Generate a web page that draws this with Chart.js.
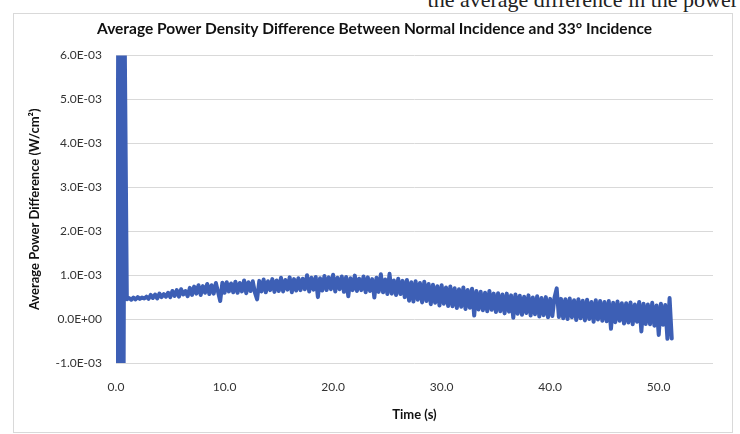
<!DOCTYPE html>
<html>
<head>
<meta charset="utf-8">
<title>Average Power Density Difference</title>
<script src="https://cdn.jsdelivr.net/npm/chart.js@4.4.1/dist/chart.umd.min.js"></script>
<style>
  html, body { margin: 0; padding: 0; background: #fff; }
  body { width: 740px; height: 434px; position: relative; overflow: hidden; }
  #texto { position: absolute; left: 0; top: -13px; width: 738px; white-space: nowrap; text-align: right;
           font: 22px "Liberation Serif", serif; color: #222; }
  #marco { position: absolute; left: 13px; top: 13px; width: 718px; height: 418px; border: 1px solid #d9d9d9; }
  #wrap { position: absolute; left: 0; top: 0; width: 740px; height: 434px; }
</style>
</head>
<body>
<div id="texto">the average difference in the power</div>
<div id="marco"></div>
<div id="wrap"><canvas id="chart-diferencia"></canvas></div>
<script>
/*
  ==================================================
  ====================== DATA ======================
  ==================================================
*/

// startup transient, time in s, difference in 1E-03 W/cm2
const spikeTime = [0.0, 0.1, 0.2, 0.3, 0.4, 0.5, 0.6, 0.7, 0.8];
const spikeDiff = [2.75, -1.4, 6.5, -1.4, 6.5, -1.4, 6.5, -1.4, 6.5];

// steady part, sampled every bandStep seconds starting at bandStart
const bandStart = 1.0;
const bandStep = 0.2;
const bandDiff = [
  0.45, 0.48, 0.44, 0.49, 0.45, 0.50, 0.46, 0.49, 0.47, 0.51,
  0.46, 0.55, 0.48, 0.56, 0.47, 0.58, 0.50, 0.57, 0.51, 0.60,
  0.50, 0.64, 0.53, 0.66, 0.51, 0.68, 0.56, 0.64, 0.52, 0.71,
  0.55, 0.74, 0.58, 0.77, 0.55, 0.75, 0.60, 0.80, 0.57, 0.77,
  0.58, 0.82, 0.62, 0.41, 0.83, 0.60, 0.84, 0.63, 0.81, 0.61,
  0.85, 0.60, 0.82, 0.63, 0.88, 0.59, 0.84, 0.64, 0.86, 0.60,
  0.45, 0.87, 0.63, 0.90, 0.61, 0.86, 0.66, 0.91, 0.62, 0.88,
  0.64, 0.94, 0.63, 0.89, 0.67, 0.95, 0.61, 0.91, 0.65, 0.93,
  0.66, 0.92, 0.68, 1.00, 0.63, 0.94, 0.67, 0.96, 0.50, 0.93,
  0.65, 0.98, 0.66, 0.95, 0.68, 1.01, 0.63, 0.94, 0.68, 0.97,
  0.62, 0.96, 0.52, 0.93, 0.66, 0.99, 0.64, 0.92, 0.66, 0.97,
  0.61, 0.95, 0.64, 0.91, 0.49, 0.94, 0.62, 1.02, 0.61, 0.90,
  0.57, 1.03, 0.58, 0.88, 0.55, 0.92, 0.57, 0.87, 0.50, 0.89,
  0.42, 0.84, 0.40, 0.86, 0.44, 0.82, 0.38, 0.85, 0.41, 0.80,
  0.34, 0.78, 0.37, 0.75, 0.31, 0.77, 0.35, 0.72, 0.30, 0.74,
  0.29, 0.70, 0.25, 0.68, 0.28, 0.72, 0.23, 0.66, 0.26, 0.69,
  0.08, 0.64, 0.22, 0.62, 0.20, 0.60, 0.18, 0.64, 0.21, 0.58,
  0.16, 0.59, 0.18, 0.56, 0.13, 0.58, 0.17, 0.54, 0.03, 0.56,
  0.12, 0.53, 0.10, 0.51, 0.14, 0.54, 0.08, 0.49, 0.11, 0.52,
  0.06, 0.48, 0.09, 0.50, 0.04, 0.46, 0.07, 0.49, 0.70, 0.05,
  0.46, 0.02, 0.45, 0.00, 0.47, 0.04, 0.43, -0.02, 0.45, 0.02,
  0.42, -0.03, 0.44, 0.00, 0.39, -0.06, 0.43, -0.01, 0.41, -0.04,
  0.39, -0.05, 0.41, -0.22, 0.37, -0.07, 0.40, -0.04, 0.36, -0.10,
  0.36, -0.08, 0.38, -0.12, 0.33, -0.06, 0.39, -0.28, 0.35, -0.11,
  0.33, -0.12, 0.37, -0.15, 0.31, -0.36, 0.35, -0.13, 0.32, -0.45,
  0.48, -0.44
];

const xTicks = [0, 10, 20, 30, 40, 50];
const xTickLabels = ['0.0', '10.0', '20.0', '30.0', '40.0', '50.0'];
const yTicks = [-1, 0, 1, 2, 3, 4, 5, 6];
const yTickLabels = ['-1.0E-03', '0.0E+00', '1.0E-03', '2.0E-03', '3.0E-03', '4.0E-03', '5.0E-03', '6.0E-03'];

/*
  ==================================================
  ===================== CHART ======================
  ==================================================
*/

let puntos = spikeTime.map((t, i) => ({ x: t, y: spikeDiff[i] }));
bandDiff.forEach((v, i) => puntos.push({ x: bandStart + i * bandStep, y: v }));

let fuente = 'Lato, "Open Sans", sans-serif';

// nudge the title a little to the right, like the original
let moverTitulo = {
  id: 'moverTitulo',
  afterLayout: (c) => { c.titleBlock.left += 16; }
};

/** @type {CanvasRenderingContext2D} */
let ctx = document.getElementById('chart-diferencia').getContext('2d');

let chart = new Chart(ctx, {
  type: 'line',
  data: {
    datasets: [{
      label: 'Difference',
      data: puntos,
      borderColor: '#3d5fb5',
      backgroundColor: '#3d5fb5',
      borderWidth: 4,
      borderJoinStyle: 'round',
      borderCapStyle: 'round',
      pointRadius: 0,
      tension: 0,
      fill: false
    }]
  },
  options: {
    responsive: true,
    maintainAspectRatio: false,
    animation: false,
    layout: { padding: { left: 20, right: 27, top: 14, bottom: 9 } },
    plugins: {
      legend: { display: false },
      tooltip: { enabled: false },
      title: {
        display: true,
        text: 'Average Power Density Difference Between Normal Incidence and 33° Incidence',
        color: '#111',
        font: { family: fuente, size: 15.5, weight: 'bold' },
        padding: { top: 6, bottom: 17 }
      }
    },
    scales: {
      x: {
        type: 'linear',
        min: 0,
        max: 55,
        afterBuildTicks: (axis) => { axis.ticks = xTicks.map(v => ({ value: v })); },
        afterFit: (axis) => { axis.height = 62; },
        grid: { display: false, drawTicks: false },
        border: { display: false },
        ticks: {
          padding: 17,
          maxRotation: 0,
          color: '#333',
          font: { family: fuente, size: 12 },
          callback: (v, i) => xTickLabels[i]
        },
        title: {
          display: true,
          text: 'Time (s)',
          color: '#111',
          font: { family: fuente, size: 13, weight: 'bold' },
          padding: { top: 12, bottom: 2 }
        }
      },
      y: {
        min: -1,
        max: 6,
        afterBuildTicks: (axis) => { axis.ticks = yTicks.map(v => ({ value: v })); },
        afterFit: (axis) => { axis.width = 96; },
        grid: { color: '#d9d9d9', lineWidth: 1, drawTicks: false },
        border: { display: false },
        ticks: {
          padding: 14,
          color: '#333',
          font: { family: fuente, size: 12 },
          callback: (v, i) => yTickLabels[i]
        },
        title: {
          display: true,
          text: 'Average Power Difference (W/cm²)',
          color: '#111',
          font: { family: fuente, size: 13, weight: 'bold' },
          padding: { top: 7, bottom: 0 }
        }
      }
    }
  },
  plugins: [moverTitulo]
});
</script>
</body>
</html>
